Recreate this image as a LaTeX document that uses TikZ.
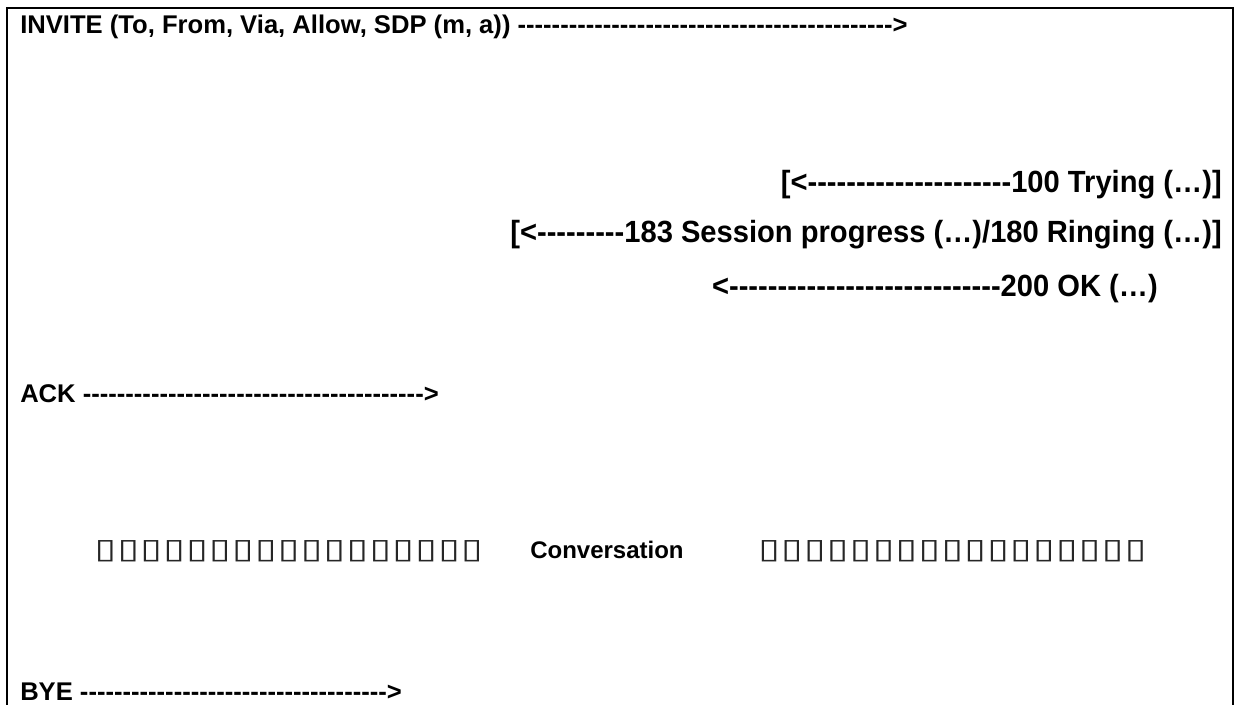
\documentclass[tikz,border=0pt]{standalone}
\usepackage{graphicx}
\usepackage{fontspec}
\setmainfont{Liberation Sans}[Ligatures=TeXOff]
\newfontfamily\narrowfont{Liberation Sans}[Ligatures=TeXOff,FakeStretch=0.95]
\newfontfamily\glyphfont{DejaVu Sans}
\usetikzlibrary{positioning}

\newcommand\dashrun[1]{\foreach \i in {1,...,#1}{-}}
\newcommand\boxrun[1]{\foreach \i in {1,...,#1}{\ifnum\i>1 \kern1pt\fi\scalebox{1.4}[1]{\char"25AF}}}

\tikzset{
  frame/.style={line width=1.5pt},
  msg/.style={inner sep=0pt, font=\bfseries\fontsize{19.2}{22}\selectfont},
  narrowmsg/.style={inner sep=0pt, font=\narrowfont\bfseries\fontsize{23}{26}\selectfont},
  boxrow/.style={inner sep=0pt, font=\glyphfont\fontsize{21}{24}\selectfont, text=black!85}
}

\begin{document}
\begin{tikzpicture}[x=0.75pt,y=-0.75pt]
 \useasboundingbox (0,0) rectangle (1239,705);
 \draw[frame] (7,705) -- (7,8) -- (1233,8) -- (1233,705);

 % requests and replies
 \node[msg, anchor=base west] (invite) at (20,34)
  {INVITE (To, From, Via, Allow, SDP (m, a)) \dashrun{44}>};
 \node[narrowmsg, anchor=base east] (trying) at (1222,193)
  {[<\dashrun{21}100 Trying (…)]};
 \node[narrowmsg, anchor=base east] (ringing) at (1222,243)
  {[<\dashrun{9}183 Session progress (…)/180 Ringing (…)]};
 \node[narrowmsg, anchor=base east] (ok) at (1158,297)
  {<\dashrun{28}200 OK (…)};
 \node[msg, anchor=base west] (ack) at (20,403) {ACK \dashrun{40}>};

 % media
 \node[msg, font=\bfseries\fontsize{18}{22}\selectfont, anchor=base west] (conv) at (530,559) {Conversation};
 \node[boxrow, anchor=base east] (lboxes) at (483,559) {\boxrun{17}};
 \node[boxrow, anchor=base west] (rboxes) at (758,559) {\boxrun{17}};

 \node[msg, anchor=base west] (bye) at (20,700) {BYE \dashrun{36}>};
\end{tikzpicture}
\end{document}
